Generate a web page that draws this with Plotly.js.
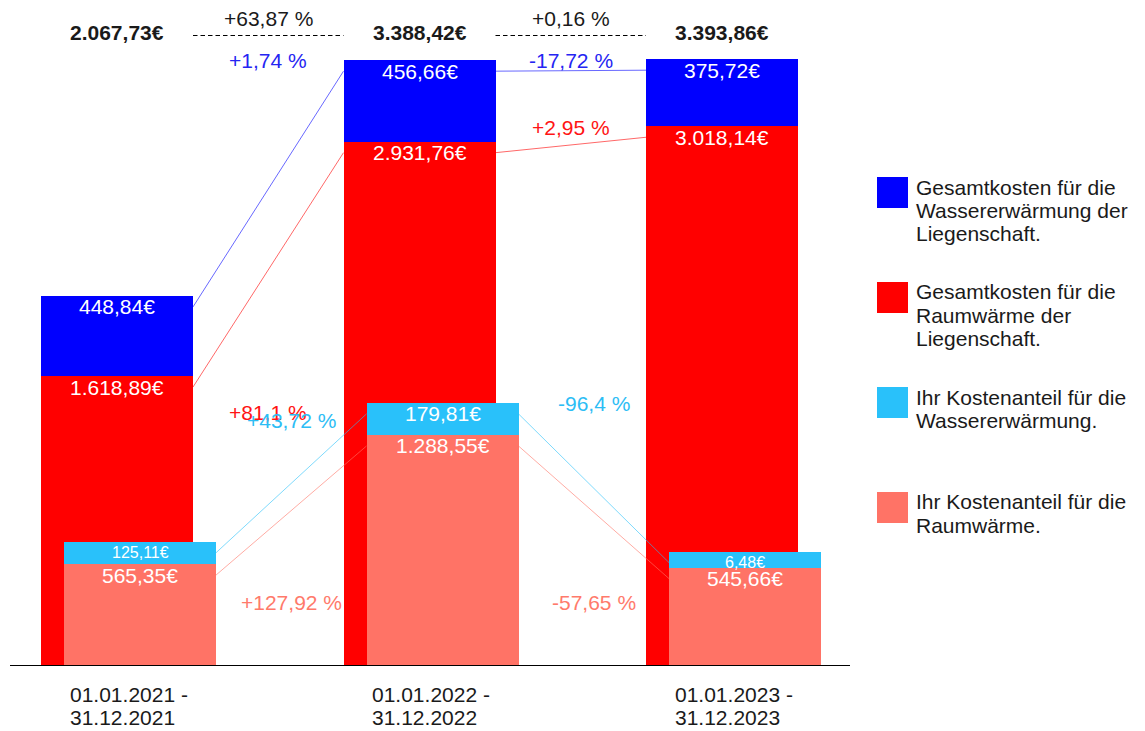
<!DOCTYPE html>
<html><head><meta charset="utf-8">
<script src="https://cdn.plot.ly/plotly-3.0.1.min.js"></script>
<style>html,body{margin:0;padding:0;background:#fff}</style>
</head><body><div id="chart" style="width:1145px;height:731px"></div>
<script>
// ---- data ----
const periodStart = ['01.01.2021 -', '01.01.2022 -', '01.01.2023 -'];
const periodEnd = ['31.12.2021', '31.12.2022', '31.12.2023'];
const gesamtRaum = [1618.89, 2931.76, 3018.14];
const gesamtWasser = [448.84, 456.66, 375.72];
const anteilRaum = [565.35, 1288.55, 545.66];
const anteilWasser = [125.11, 179.81, 6.48];
const legendLabels = [
  ['Gesamtkosten für die', 'Wassererwärmung der', 'Liegenschaft.'],
  ['Gesamtkosten für die', 'Raumwärme der', 'Liegenschaft.'],
  ['Ihr Kostenanteil für die', 'Wassererwärmung.'],
  ['Ihr Kostenanteil für die', 'Raumwärme.']
];

// ---- style / layout ----
const BLUE = '#0000ff', RED = '#ff0000', LBLUE = '#29c1fa', SALMON = '#ff7366';
const TXT_BLUE = '#2525f2', TXT_RED = '#ff1414', TXT_LBLUE = '#2cbdf5', TXT_SALMON = '#ff7a6b';
const FONT = 'Liberation Sans, Arial, Helvetica, sans-serif';
const W = 1145, H = 731, M = {l: 10, r: 295, t: 0, b: 66};
const plotW = W - M.l - M.r, plotH = H - M.t - M.b;
const PX_PER_EUR = 0.1785;
const Y_MAX = plotH / PX_PER_EUR;
const GROUP_PX = 302.5, BAR_PX = 152, SHIFT_PX = 23, FIRST_CENTER_PX = 128.5;
const BW = BAR_PX / GROUP_PX, OFF = (SHIFT_PX / 2) / GROUP_PX;
const X0 = (M.l - FIRST_CENTER_PX) / GROUP_PX, X1 = X0 + plotW / GROUP_PX;
const DROP = 11 / PX_PER_EUR;
const MIN_SEG = 16 / PX_PER_EUR;
const py = p => (plotH - (p - M.t)) / plotH;          // pixel row -> paper y
const px = p => (p - M.l) / plotW;                     // pixel col -> paper x

function eur(v) {
  const [a, b] = v.toFixed(2).split('.');
  return a.replace(/\B(?=(\d{3})+(?!\d))/g, '.') + ',' + b + '€';
}
function pct(a, b) {
  const p = Math.round((b / a - 1) * 10000) / 100;
  return (p > 0 ? '+' : '') + String(p).replace('.', ',') + ' %';
}

const idx = gesamtRaum.map((_, i) => i);
const xT = idx.map(i => i - OFF), xS = idx.map(i => i + OFF);
const totals = idx.map(i => gesamtRaum[i] + gesamtWasser[i]);
const shownAW = anteilWasser.map(v => Math.max(v, MIN_SEG));
const topAW = idx.map(i => anteilRaum[i] + shownAW[i]);

const bar = (x, y, c) => ({type: 'bar', x, y, width: BW, marker: {color: c, line: {width: 0}}, hoverinfo: 'skip', showlegend: false});
const data = [
  bar(xT, gesamtRaum, RED), bar(xT, gesamtWasser, BLUE),
  bar(xS, anteilRaum, SALMON), bar(xS, shownAW, LBLUE)
];

const annotations = [], shapes = [];
const ann = o => annotations.push(Object.assign({showarrow: false, font: {family: FONT, size: 21, color: '#1a1a1a'}}, o));

// segment labels
const series = [
  {x: xT, vals: gesamtRaum, tops: gesamtRaum, color: RED, tcol: TXT_RED, shown: gesamtRaum},
  {x: xT, vals: gesamtWasser, tops: totals, color: BLUE, tcol: TXT_BLUE, shown: gesamtWasser},
  {x: xS, vals: anteilRaum, tops: anteilRaum, color: SALMON, tcol: TXT_SALMON, shown: anteilRaum},
  {x: xS, vals: anteilWasser, tops: topAW, color: LBLUE, tcol: TXT_LBLUE, shown: shownAW}
];
series.forEach(s => {
  idx.forEach(i => {
    const segPx = s.shown[i] * PX_PER_EUR;
    ann({x: s.x[i], y: s.tops[i] - DROP, xref: 'x', yref: 'y', yanchor: 'middle', text: eur(s.vals[i]),
         font: {family: FONT, size: segPx >= 28 ? 21 : 16, color: '#ffffff'}});
  });
  for (let i = 0; i < idx.length - 1; i++) {
    shapes.push({type: 'line', xref: 'x', yref: 'y', x0: s.x[i] + BW / 2, x1: s.x[i + 1] - BW / 2,
                 y0: s.tops[i] - DROP, y1: s.tops[i + 1] - DROP, line: {color: s.color, width: 0.6}});
  }
});

// percent labels between groups (pixel rows of label centres)
const pctRows = [[61, 60], [413, 127], [602, 602], [420, 404]];
const pctSeries = [series[1], series[0], series[2], series[3]];
pctSeries.forEach((s, k) => {
  for (let i = 0; i < idx.length - 1; i++) {
    ann({x: (s.x[i] + s.x[i + 1]) / 2, y: py(pctRows[k][i]), xref: 'x', yref: 'paper', yanchor: 'middle',
         text: pct(s.vals[i], s.vals[i + 1]), font: {family: FONT, size: 21, color: s.tcol}});
  }
});

// totals
idx.forEach(i => {
  ann({x: xT[i], y: py(33), xref: 'x', yref: 'paper', yanchor: 'middle', text: '<b>' + eur(totals[i]) + '</b>'});
});
for (let i = 0; i < idx.length - 1; i++) {
  shapes.push({type: 'line', xref: 'x', yref: 'paper', x0: xT[i] + BW / 2, x1: xT[i + 1] - BW / 2,
               y0: py(35.5), y1: py(35.5), line: {color: '#000', width: 1, dash: '4.5px,3px'}});
  ann({x: (xT[i] + xT[i + 1]) / 2, y: py(18), xref: 'x', yref: 'paper', yanchor: 'middle', text: pct(totals[i], totals[i + 1])});
}

// x labels
idx.forEach(i => {
  ann({x: i, xref: 'x', xanchor: 'left', xshift: -61, y: py(695), yref: 'paper', yanchor: 'middle', text: periodStart[i]});
  ann({x: i, xref: 'x', xanchor: 'left', xshift: -61, y: py(717), yref: 'paper', yanchor: 'middle', text: periodEnd[i]});
});

// legend
const legColors = [BLUE, RED, LBLUE, SALMON];
const legTop = [177, 282, 387, 492];
legendLabels.forEach((lines, k) => {
  shapes.push({type: 'rect', xref: 'paper', yref: 'paper', x0: px(877), x1: px(908), y0: py(legTop[k]), y1: py(legTop[k] + 31),
               fillcolor: legColors[k], line: {width: 0}});
  lines.forEach((t, j) => {
    ann({x: px(914), xref: 'paper', xanchor: 'left', y: py(legTop[k] + 10 + j * 23.3), yref: 'paper', yanchor: 'middle', text: t});
  });
});

const layout = {
  width: W, height: H, margin: M, paper_bgcolor: '#fff', plot_bgcolor: '#fff',
  barmode: 'stack', bargap: 0, showlegend: false,
  xaxis: {range: [X0, X1], showgrid: false, zeroline: false, showticklabels: false, ticks: '',
          showline: true, linecolor: '#000', linewidth: 1, fixedrange: true},
  yaxis: {range: [0, Y_MAX], showgrid: false, zeroline: false, showticklabels: false, ticks: '', showline: false, fixedrange: true},
  annotations, shapes, hovermode: false
};
Plotly.newPlot('chart', data, layout, {displayModeBar: false, staticPlot: true});
</script></body></html>
